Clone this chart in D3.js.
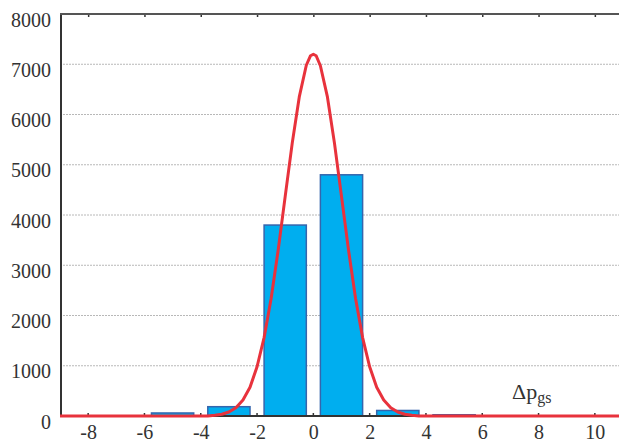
<!DOCTYPE html>
<html>
<head>
<meta charset="utf-8">
<style>
body { margin: 0; background: #fff; }
.grid line { stroke: #b8b8b8; stroke-width: 1; stroke-dasharray: 2,1; }
</style>
<script src="https://d3js.org/d3.v7.min.js"></script>
</head>
<body>
<svg id="chart" width="619" height="445"></svg>
<script>
// histogram bins (centre, count)
var binCenters = [-5, -3, -1, 1, 3, 5];
var binCounts  = [60, 185, 3800, 4800, 110, 25];

// fitted curve
var curveX = [-9, -3.75, -3.5, -3.25, -3, -2.75, -2.5, -2.25, -2, -1.75, -1.5, -1.25, -1, -0.75, -0.5, -0.25, -0.1, 0, 0.1, 0.25, 0.5, 0.75, 1, 1.25, 1.5, 1.75, 2, 2.25, 2.5, 2.75, 3, 3.25, 3.5, 3.75, 11];
var curveY = [0, 0, 15, 35, 80, 165, 320, 570, 980, 1560, 2340, 3300, 4370, 5430, 6350, 6980, 7170, 7200, 7170, 6970, 6350, 5430, 4370, 3300, 2340, 1560, 980, 570, 320, 165, 80, 35, 15, 0, 0];

var xTicks = [-8, -6, -4, -2, 0, 2, 4, 6, 8, 10];
var yTicks = [0, 1000, 2000, 3000, 4000, 5000, 6000, 7000, 8000];

var FONT = "'Times New Roman', Times, serif";
var FS = 20;
var svg = d3.select("#chart");
var pLeft = 60, pRight = 623, pTop = 14, pBottom = 416;

var x = d3.scaleLinear().domain([-9, 11]).range([pLeft, pRight]);
var y = d3.scaleLinear().domain([0, 8000]).range([pBottom, pTop]);

// gridlines
svg.append("g").attr("class", "grid")
  .selectAll("line").data(yTicks.filter(function(d){ return d > 0 && d < 8000; }))
  .enter().append("line")
  .attr("x1", pLeft).attr("x2", pRight)
  .attr("y1", function(d){ return y(d); }).attr("y2", function(d){ return y(d); });

// bars
var binW = x(1.5) - x(0);
svg.append("g").selectAll("rect").data(binCenters)
  .enter().append("rect")
  .attr("x", function(d){ return x(d) - binW / 2; })
  .attr("y", function(d, i){ return y(binCounts[i]); })
  .attr("width", binW)
  .attr("height", function(d, i){ return y(0) - y(binCounts[i]); })
  .attr("fill", "#00aeef")
  .attr("stroke", "#3565ad")
  .attr("stroke-width", 1.5);

// axes
var xAxisB = d3.axisBottom(x).tickValues(xTicks).tickSize(0).tickPadding(9);
var gx = svg.append("g").attr("transform", "translate(0," + pBottom + ")").call(xAxisB);
gx.select(".domain").remove();
gx.attr("font-family", FONT).attr("font-size", FS);
gx.selectAll("text").attr("fill", "#333")
  .text(function(d){ return d < 0 ? "-" + Math.abs(d) : d; });

// small ticks on bottom axis
svg.append("g").selectAll("line").data(xTicks).enter().append("line")
  .attr("x1", function(d){ return x(d); }).attr("x2", function(d){ return x(d); })
  .attr("y1", pBottom).attr("y2", pBottom - 3)
  .attr("stroke", "#333").attr("stroke-width", 1.5);

var xAxisT = d3.axisTop(x).tickValues(xTicks).tickSize(-3).tickFormat("");
var gt = svg.append("g").attr("transform", "translate(0," + pTop + ")").call(xAxisT);
gt.select(".domain").remove();
gt.selectAll("line").attr("stroke", "#333").attr("stroke-width", 1.5);

var yAxis = d3.axisLeft(y).tickValues(yTicks).tickSize(0).tickPadding(9).tickFormat(d3.format("d"));
var gy = svg.append("g").attr("transform", "translate(" + pLeft + ",0)").call(yAxis);
gy.select(".domain").remove();
gy.attr("font-family", FONT).attr("font-size", FS);
gy.selectAll("text").attr("fill", "#333").attr("dy", "0.6em");

// frame
svg.append("line").attr("x1", pLeft + 1).attr("x2", pLeft + 1).attr("y1", pTop).attr("y2", pBottom)
  .attr("stroke", "#333").attr("stroke-width", 2);
svg.append("line").attr("x1", pLeft).attr("x2", pRight).attr("y1", pTop).attr("y2", pTop)
  .attr("stroke", "#555").attr("stroke-width", 2);
svg.append("line").attr("x1", pLeft).attr("x2", pRight).attr("y1", pBottom).attr("y2", pBottom)
  .attr("stroke", "#333").attr("stroke-width", 2);

// curve
var pts = curveX.map(function(d, i){ return [d, curveY[i]]; });
var line = d3.line().x(function(d){ return x(d[0]); }).y(function(d){ return y(d[1]); });
svg.append("path").datum(pts)
  .attr("d", line)
  .attr("fill", "none")
  .attr("stroke", "#e8323c")
  .attr("stroke-width", 3)
  .attr("stroke-linejoin", "round");

// label
var lab = svg.append("text").attr("x", 512).attr("y", 399)
  .attr("font-family", FONT).attr("font-size", 22).attr("fill", "#333");
lab.append("tspan").text("\u0394p");
lab.append("tspan").attr("font-size", 16).attr("dy", 4).text("gs");
</script>
</body>
</html>
